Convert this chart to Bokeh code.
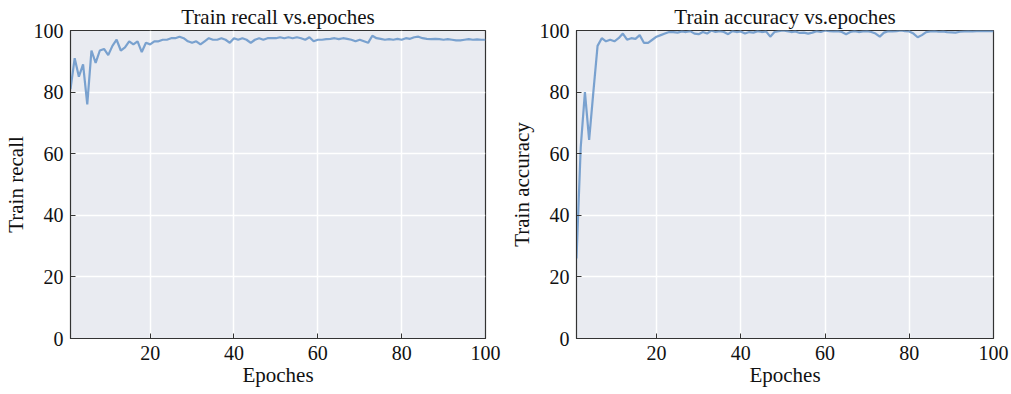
from bokeh.plotting import figure
from bokeh.layouts import row
from bokeh.models import FixedTicker
from bokeh.embed import file_html
from bokeh.resources import INLINE

epochs = list(range(1, 101))

train_recall = [
    81, 91, 85, 89, 76, 93.5, 89.5, 93.5, 94, 92,
    95, 97, 93.5, 94.5, 96.5, 95.5, 96.5, 93, 96, 95.5,
    96.5, 96.5, 97, 97, 97.5, 97.5, 98, 97.5, 96.5, 96,
    96.5, 95.5, 96.5, 97.5, 97, 97, 97.5, 97, 96, 97.5,
    97, 97.5, 97, 96, 97, 97.5, 97, 97.5, 97.5, 97.5,
    97.8, 97.5, 97.8, 97.5, 97.8, 97.5, 97, 97.8, 96.5, 97,
    97, 97.2, 97.3, 97.5, 97.2, 97.5, 97.3, 97, 96.5, 97,
    96.5, 96, 98.3, 97.5, 97.3, 97, 97.2, 97, 97.3, 97,
    97.5, 97.3, 97.8, 98, 97.5, 97.3, 97.2, 97.3, 97.2, 97,
    97.2, 97, 96.8, 96.8, 97, 97.2, 97, 97.1, 97, 97,
]

train_accuracy = [
    26, 62, 80, 64.5, 80, 95, 97.5, 96.5, 97, 96.5,
    97.5, 99, 97, 97.5, 97.3, 98.5, 96, 96, 97, 98,
    98.5, 99, 99.5, 99.5, 99.3, 99.7, 99.5, 99.8, 99, 98.8,
    99.5, 99, 100, 99.5, 99.8, 99.5, 98.8, 99.8, 99.5, 99.7,
    99, 99.5, 99.3, 99.8, 99.5, 99.7, 98, 99.5, 99.8, 100,
    99.8, 99.5, 99.7, 99.2, 99.3, 99, 99.3, 99.8, 99.5, 100,
    99.8, 99.7, 99.8, 99.5, 98.8, 99.5, 99.8, 99.5, 99.7, 99.8,
    99.5, 99, 98, 99.3, 99.8, 99.7, 99.8, 100, 99.8, 99.7,
    99, 97.8, 98.5, 99.5, 99.7, 99.8, 99.6, 99.7, 99.5, 99.4,
    99.3, 99.6, 99.7, 99.8, 99.7, 99.8, 99.8, 99.9, 99.8, 99.8,
]

x_ticks = [20, 40, 60, 80, 100]
y_ticks = [0, 20, 40, 60, 80, 100]

FONT = "Liberation Serif"
BG = "#e9ebf1"
LINE = "#739dcc"


def make_fig(title, ylabel, ys, width, left, right):
    p = figure(width=width, height=394, x_range=(1, 100), y_range=(0, 100),
               output_backend="svg", toolbar_location=None, title=title,
               min_border_left=left, min_border_right=right,
               min_border_top=30, min_border_bottom=56)
    p.title.align = "center"
    p.title.text_font = FONT
    p.title.text_font_size = "21px"
    p.title.text_font_style = "normal"
    p.title.text_color = "#111111"
    p.title.offset = 0
    p.title.standoff = 3
    p.background_fill_color = BG
    p.border_fill_color = "white"
    p.outline_line_color = "#333333"
    p.outline_line_width = 1.2
    p.xgrid.grid_line_color = "white"
    p.ygrid.grid_line_color = "white"
    p.xgrid.grid_line_width = 1.5
    p.ygrid.grid_line_width = 1.5
    p.xaxis.ticker = FixedTicker(ticks=x_ticks)
    p.yaxis.ticker = FixedTicker(ticks=y_ticks)
    for ax in (p.xaxis[0], p.yaxis[0]):
        ax.major_label_text_font = FONT
        ax.major_label_text_font_size = "20px"
        ax.major_label_text_color = "#111111"
        ax.axis_label_text_font = FONT
        ax.axis_label_text_font_size = "21px"
        ax.axis_label_text_font_style = "normal"
        ax.axis_label_text_color = "#111111"
        ax.axis_line_color = "#333333"
        ax.major_tick_line_color = "#333333"
        ax.major_tick_in = 5
        ax.major_tick_out = 0
        ax.minor_tick_line_color = None
        ax.major_label_standoff = 7
    p.xaxis.axis_label = "Epoches"
    p.yaxis.axis_label = ylabel
    p.xaxis.axis_label_standoff = 0
    p.yaxis.axis_label_standoff = 3
    p.line(epochs, ys, line_color=LINE, line_width=2.2, line_alpha=0.95)
    return p


p1 = make_fig("Train recall vs.epoches", "Train recall", train_recall, 505, 68, 20)
p2 = make_fig("Train accuracy vs.epoches", "Train accuracy", train_accuracy, 506, 71, 18)

layout = row(p1, p2)
open("out.html", "w").write(file_html(layout, INLINE))
